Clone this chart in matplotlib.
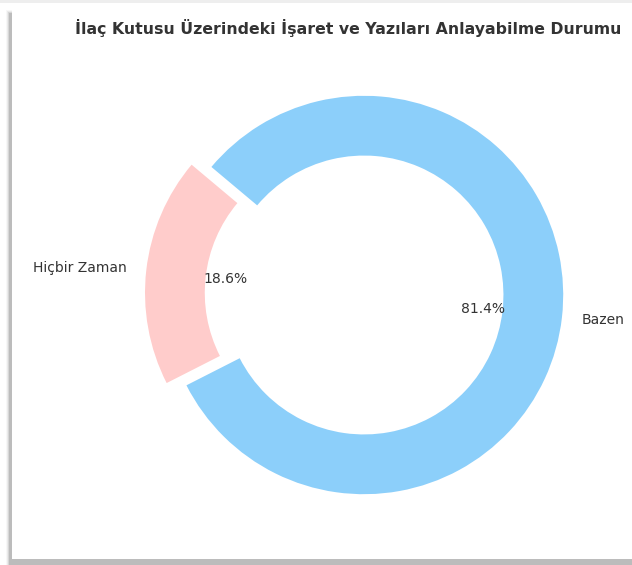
import matplotlib.pyplot as plt
from matplotlib.patches import Rectangle

# data
labels = ['Hiçbir Zaman', 'Bazen']
values = [18.6, 81.4]
colors = ['#ffcccb', '#8ccffa']
explode = [0.1, 0]
title = 'İlaç Kutusu Üzerindeki İşaret ve Yazıları Anlayabilme Durumu'

W, H = 632, 565
fig = plt.figure(figsize=(W / 100, H / 100), dpi=100)

# drop shadow frame around the picture
for off, a in [(4, 0.06), (3, 0.10), (2, 0.18), (1, 0.30)]:
    fig.patches.append(Rectangle((10 / W - off / W, -10 / H), 1.2, (567 - 6 + off) / H,
                                 transform=fig.transFigure, facecolor='gray',
                                 edgecolor='none', alpha=a, zorder=0))
fig.patches.append(Rectangle((12 / W, 6 / H), 1.2, 556 / H,
                             transform=fig.transFigure, facecolor='white',
                             edgecolor='none', zorder=0.5))
fig.patches.append(Rectangle((0, (H - 3) / H), 1, 3 / H, transform=fig.transFigure,
                             facecolor='#eeeeee', edgecolor='none', zorder=0.6))

ax = fig.add_axes([115 / W, 21 / H, 498 / W, 498 / H])
ax.set_zorder(2)
ax.patch.set_visible(False)
ax.pie(values, labels=labels, colors=colors, explode=explode, startangle=140,
       autopct='%1.1f%%', pctdistance=0.6, labeldistance=1.1,
       wedgeprops=dict(width=0.3),
       textprops=dict(fontsize=10, color='#333333'))
ax.set_aspect('equal')

t = fig.text(348 / W, 1 - 28 / H, title, ha='center', va='center',
             fontsize=11.35, fontweight='bold', color='#333333')
t.set_zorder(3)

fig.savefig('out.png', dpi=100)
